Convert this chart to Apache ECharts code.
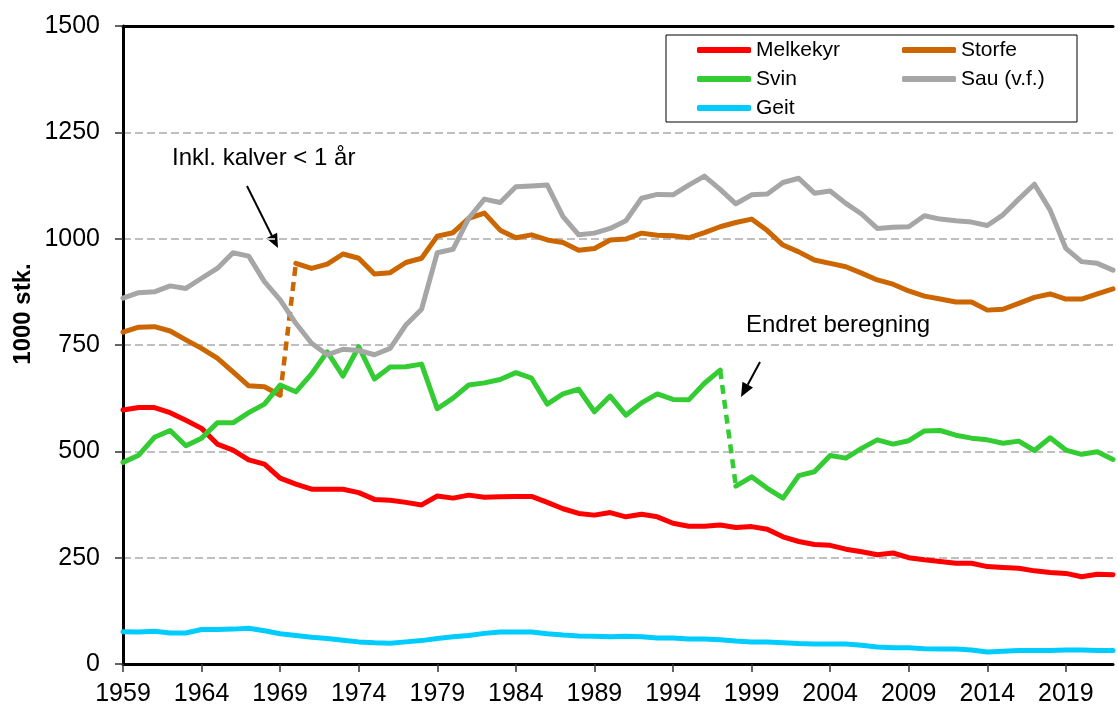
<!DOCTYPE html>
<html>
<head>
<meta charset="utf-8">
<script src="https://cdn.jsdelivr.net/npm/echarts@6/dist/echarts.min.js"></script>
<style>
html,body{margin:0;padding:0;background:#fff;}
#chart{width:1118px;height:707px;}
</style>
</head>
<body>
<div id="chart"></div>
<script>
var years = [];
for (var y = 1959; y <= 2022; y++) years.push(String(y));

var melkekyr = [597,603,603,591,573,554,517,503,480,470,
  437,423,411,411,411,403,387,385,380,374,
  395,390,397,392,393,394,394,380,365,354,
  350,356,346,352,346,331,324,324,327,321,
  323,317,299,288,281,279,270,264,257,261,
  250,245,241,237,237,229,227,225,219,215,
  213,205,211,210];

var storfe = [780,792,793,783,762,742,719,687,654,652,
  632,942,930,940,964,954,917,920,944,954,
  1006,1014,1048,1060,1020,1002,1009,997,991,973,
  977,997,999,1013,1008,1007,1002,1014,1028,1038,
  1046,1019,985,969,950,942,934,919,903,893,
  877,865,858,851,851,832,834,848,862,870,
  858,858,870,882];

var svin = [474,491,533,549,513,531,567,567,591,611,
  656,640,682,734,677,746,670,698,699,705,
  600,625,656,661,669,685,672,611,635,646,
  593,630,585,614,635,622,621,660,691,418,
  440,413,390,443,452,490,484,507,527,517,
  525,548,549,538,531,527,519,524,502,532,
  503,493,499,481];

var sau = [860,873,875,889,883,907,930,967,959,899,
  856,801,754,727,740,737,727,742,797,834,
  967,975,1048,1093,1085,1122,1124,1126,1052,1009,
  1013,1024,1042,1095,1104,1103,1126,1147,1116,1082,
  1103,1105,1132,1142,1107,1112,1083,1058,1024,1027,
  1028,1054,1046,1042,1039,1031,1056,1093,1128,1067,
  977,946,942,926];

var geit = [76,75,77,73,73,81,81,82,84,78,
  71,67,63,60,56,52,50,49,52,55,
  60,64,67,72,75,75,75,71,68,66,
  65,64,65,64,61,61,59,59,57,54,
  52,52,50,48,47,47,47,44,40,38,
  38,36,35,35,33,28,30,32,32,32,
  33,33,32,32];

var yTicks = [0,250,500,750,1000,1250,1500];

// year where the series definition changes (dashed link from previous year)
var storfeBreak = '1970';
var svinBreak = '1998';

function seg(values, from, to) {
  return values.map(function (v, i) { return (i >= from && i <= to) ? v : null; });
}

var FONT = '"Liberation Sans", Arial, Helvetica, sans-serif';
var C = {
  melk: '#FF0000', storfe: '#CC6600', svin: '#33CC33', sau: '#A6A6A6', geit: '#00CCFF'
};

var sb = years.indexOf(storfeBreak);
var vb = years.indexOf(svinBreak);
var last = years.length - 1;

function lineSeries(name, data, color, dashed) {
  return {
    name: name, type: 'line', data: data, symbol: 'none', showSymbol: false,
    connectNulls: false, silent: true,
    lineStyle: dashed ? { color: color, width: 4.5, type: [9, 6], cap: 'butt' } : { color: color, width: 5, cap: 'round', join: 'round' },
    itemStyle: { color: color },
    emphasis: { disabled: true },
    animation: false
  };
}

var chart = echarts.init(document.getElementById('chart'), null, { renderer: 'canvas' });

var option = {
  animation: false,
  textStyle: { fontFamily: FONT },
  grid: { left: 123, right: 5, top: 26, bottom: 43, containLabel: false },
  legend: {
    left: 666, top: 35, width: 380,
    orient: 'horizontal',
    padding: [3, 21, 2, 31],
    itemGap: 5,
    itemWidth: 54, itemHeight: 6,
    icon: 'roundRect',
    borderColor: '#000', borderWidth: 1,
    textStyle: { fontFamily: FONT, fontSize: 21, color: '#000', lineHeight: 24, width: 141 },
    data: [
      { name: 'Melkekyr' },
      { name: 'Storfe', textStyle: { width: 95 } },
      { name: 'Svin' },
      { name: 'Sau (v.f.)', textStyle: { width: 95 } },
      { name: 'Geit' }
    ]
  },
  xAxis: [{
    type: 'category', data: years, boundaryGap: false,
    axisLine: { lineStyle: { color: '#000', width: 3 } },
    axisTick: { show: true, interval: 4, length: 8, lineStyle: { color: '#333', width: 1.5 } },
    axisLabel: { interval: 4, margin: 18, fontSize: 25, color: '#000', fontFamily: FONT },
    splitLine: { show: false }
  }, {
    type: 'category', data: years, position: 'top', boundaryGap: false,
    axisLine: { show: true, lineStyle: { color: '#000', width: 3 } },
    axisTick: { show: false }, axisLabel: { show: false }, splitLine: { show: false }
  }],
  yAxis: {
    type: 'value', min: yTicks[0], max: yTicks[yTicks.length - 1], interval: yTicks[1] - yTicks[0],
    axisLine: { show: true, lineStyle: { color: '#000', width: 3 } },
    axisTick: { show: true, length: 8, lineStyle: { color: '#333', width: 1.5 } },
    axisLabel: { margin: 23, fontSize: 25, color: '#000', fontFamily: FONT,
      formatter: function (v) { return String(v); } },
    splitLine: { show: true, lineStyle: { color: '#BFBFBF', width: 2, type: [8, 4] } }
  },
  series: [
    lineSeries('Melkekyr', melkekyr, C.melk),
    lineSeries('Storfe', seg(storfe, 0, sb - 1), C.storfe),
    lineSeries('Storfe', seg(storfe, sb - 1, sb), C.storfe, true),
    lineSeries('Storfe', seg(storfe, sb, last), C.storfe),
    lineSeries('Svin', seg(svin, 0, vb - 1), C.svin),
    lineSeries('Svin', seg(svin, vb - 1, vb), C.svin, true),
    lineSeries('Svin', seg(svin, vb, last), C.svin),
    lineSeries('Sau (v.f.)', sau, C.sau),
    lineSeries('Geit', geit, C.geit)
  ],
  graphic: [
    { type: 'text', x: 23, y: 314, rotation: Math.PI / 2, silent: true,
      style: { text: '1000 stk.', font: 'bold 24px ' + FONT, fill: '#000', align: 'center', verticalAlign: 'middle' } },
    { type: 'text', x: 172, y: 158, silent: true,
      style: { text: 'Inkl. kalver < 1 år', font: '24px ' + FONT, fill: '#000', align: 'left', verticalAlign: 'middle' } },
    { type: 'line', silent: true, shape: { x1: 247, y1: 186, x2: 272, y2: 236 }, style: { stroke: '#000', lineWidth: 2 } },
    { type: 'polygon', silent: true, shape: { points: [[278, 248], [277.1, 232.8], [266.3, 238.2]] }, style: { fill: '#000' } },
    { type: 'text', x: 746, y: 325, silent: true,
      style: { text: 'Endret beregning', font: '24px ' + FONT, fill: '#000', align: 'left', verticalAlign: 'middle' } },
    { type: 'line', silent: true, shape: { x1: 760, y1: 362, x2: 747.7, y2: 384.7 }, style: { stroke: '#000', lineWidth: 2 } },
    { type: 'polygon', silent: true, shape: { points: [[741, 397], [742.4, 381.8], [753, 387.6]] }, style: { fill: '#000' } }
  ]
};
chart.setOption(option);
</script>
</body>
</html>
